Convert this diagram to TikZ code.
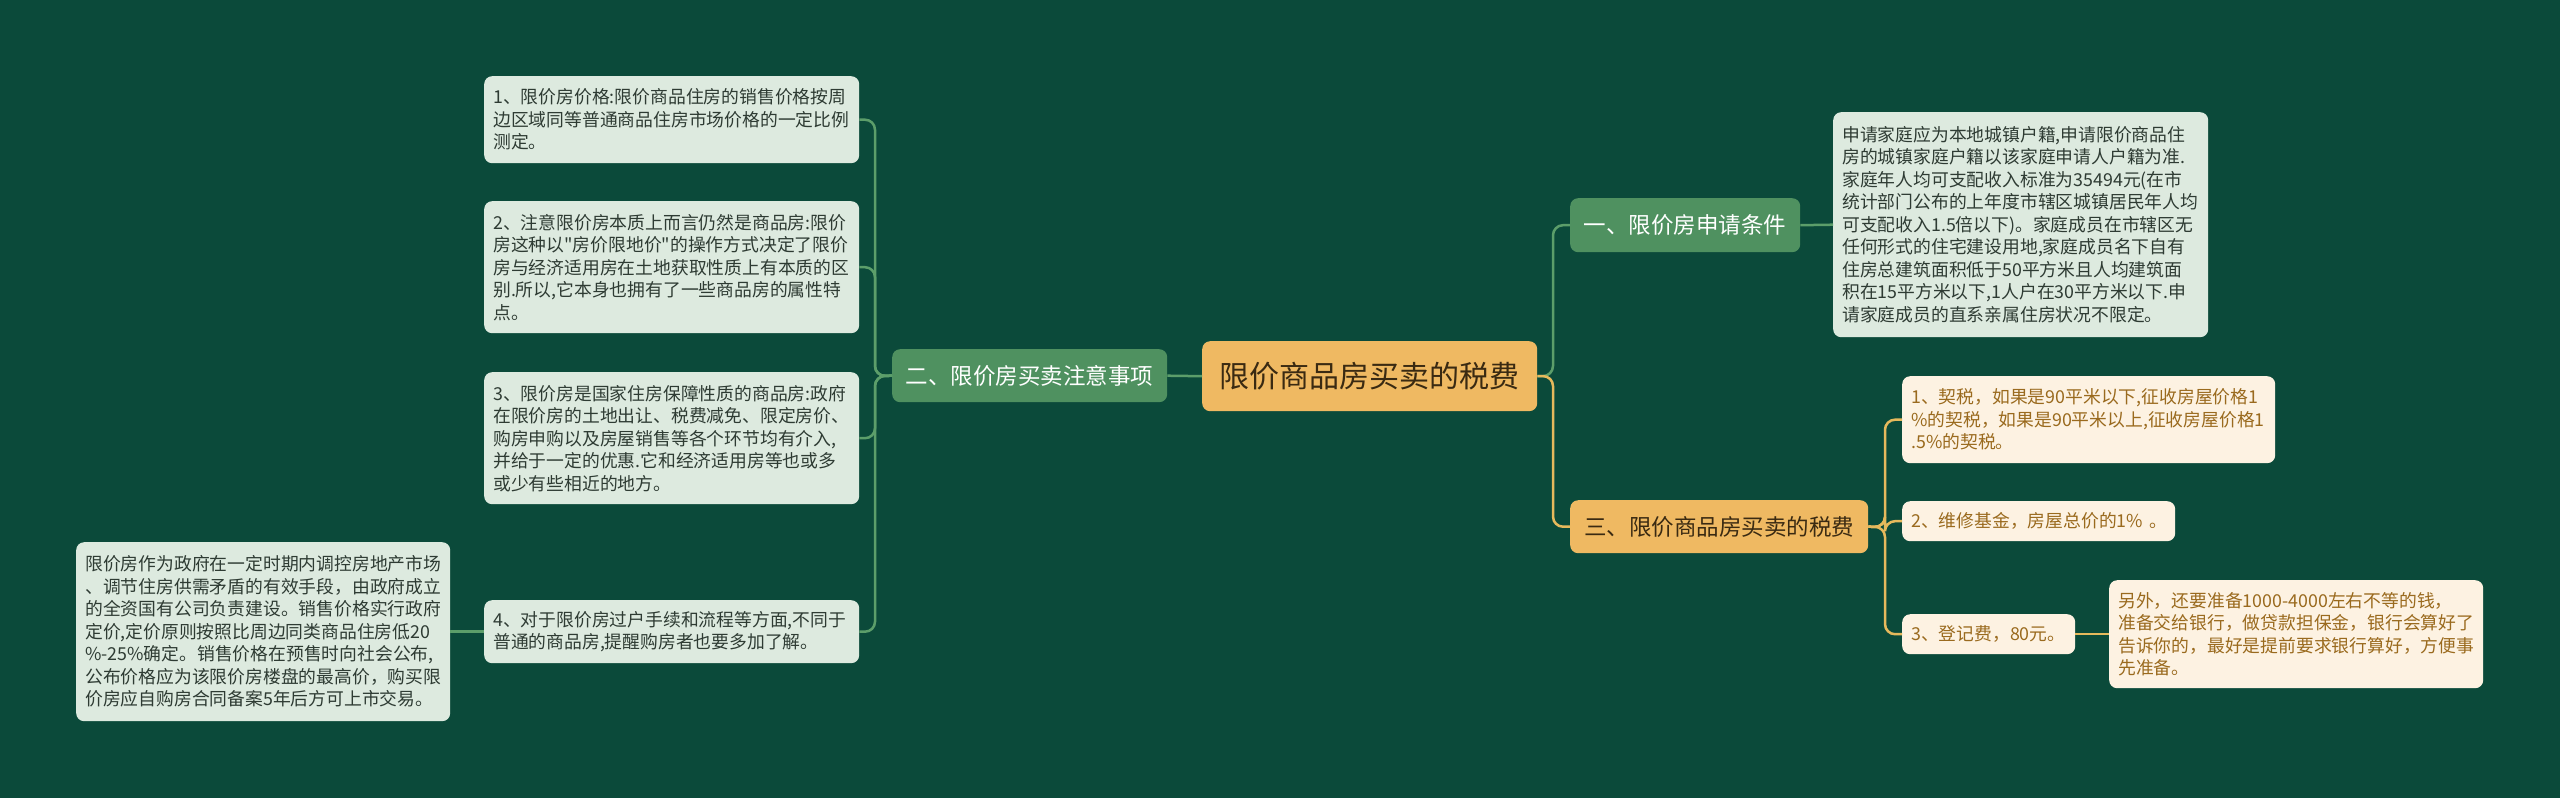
\documentclass[tikz,border=0pt]{standalone}
\usepackage{fontspec}
\setmainfont{Noto Sans CJK SC}[Ligatures=TeXOff]
\definecolor{bg}{HTML}{0B4A3A}
\definecolor{gbranch}{HTML}{4F9160}
\definecolor{gleaf}{HTML}{DDEADF}
\definecolor{gtext}{HTML}{2E3B33}
\definecolor{ybranch}{HTML}{EFB962}
\definecolor{yleaf}{HTML}{FDF2E2}
\definecolor{ytext}{HTML}{9A6A1E}
\definecolor{ctext}{HTML}{3A2A12}
\definecolor{gconn}{HTML}{5C9E6A}
\definecolor{yconn}{HTML}{E6B95C}
\tikzset{
  box/.style={anchor=north west, rounded corners=8pt, inner sep=0pt, align=left},
  central/.style={box, fill=ybranch, text=ctext, font=\fontsize{30}{36}\selectfont, align=center},
  gbr/.style={box, fill=gbranch, text=white, font=\fontsize{22.5}{27}\selectfont, align=center},
  ybr/.style={box, fill=ybranch, text=ctext, font=\fontsize{22.5}{27}\selectfont, align=center},
  gleafbox/.style={box, fill=gleaf, text=gtext, font=\fontsize{17.8}{22.5}\selectfont},
  yleafbox/.style={box, fill=yleaf, text=ytext, font=\fontsize{17.8}{22.5}\selectfont},
  gline/.style={draw=gconn, line width=2.5pt, rounded corners=10pt},
  yline/.style={draw=yconn, line width=2.5pt, rounded corners=10pt},
}
\begin{document}
\begin{tikzpicture}[x=1pt,y=-1pt]
\fill[bg] (0,0) rectangle (2560,798);
\useasboundingbox (0,0) rectangle (2560,798);

% central
\node[central, minimum width=335pt, minimum height=70pt, text width=335pt] (c) at (1202,341) {限价商品房买卖的税费};

% left branch
\node[gbr, minimum width=275pt, minimum height=53pt, text width=275pt] (b2) at (892,349) {二、限价房买卖注意事项};

\node[gleafbox, minimum width=375pt, minimum height=87pt, text width=357pt] (l1) at (484,76) {1、限价房价格:限价商品住房的销售价格按周\\边区域同等普通商品住房市场价格的一定比例\\测定。};
\node[gleafbox, minimum width=375pt, minimum height=132pt, text width=357pt] (l2) at (484,201) {2、注意限价房本质上而言仍然是商品房:限价\\房这种以"房价限地价"的操作方式决定了限价\\房与经济适用房在土地获取性质上有本质的区\\别.所以,它本身也拥有了一些商品房的属性特\\点。};
\node[gleafbox, minimum width=375pt, minimum height=132pt, text width=357pt] (l3) at (484,372) {3、限价房是国家住房保障性质的商品房:政府\\在限价房的土地出让、税费减免、限定房价、\\购房申购以及房屋销售等各个环节均有介入,\\并给于一定的优惠.它和经济适用房等也或多\\或少有些相近的地方。};
\node[gleafbox, minimum width=375pt, minimum height=63pt, text width=357pt] (l4) at (484,600) {4、对于限价房过户手续和流程等方面,不同于\\普通的商品房,提醒购房者也要多加了解。};
\node[gleafbox, minimum width=374pt, minimum height=179pt, text width=356pt] (fl) at (76,542) {限价房作为政府在一定时期内调控房地产市场\\、调节住房供需矛盾的有效手段，由政府成立\\的全资国有公司负责建设。销售价格实行政府\\定价,定价原则按照比周边同类商品住房低20\\\%-25\%确定。销售价格在预售时向社会公布,\\公布价格应为该限价房楼盘的最高价，购买限\\价房应自购房合同备案5年后方可上市交易。};

% right branches
\node[gbr, minimum width=230pt, minimum height=54pt, text width=230pt] (b1) at (1570,198) {一、限价房申请条件};
\node[gleafbox, minimum width=375pt, minimum height=225pt, text width=357pt] (d1) at (1833,112) {申请家庭应为本地城镇户籍,申请限价商品住\\房的城镇家庭户籍以该家庭申请人户籍为准.\\家庭年人均可支配收入标准为35494元(在市\\统计部门公布的上年度市辖区城镇居民年人均\\可支配收入1.5倍以下)。家庭成员在市辖区无\\任何形式的住宅建设用地,家庭成员名下自有\\住房总建筑面积低于50平方米且人均建筑面\\积在15平方米以下,1人户在30平方米以下.申\\请家庭成员的直系亲属住房状况不限定。};

\node[ybr, minimum width=298pt, minimum height=53pt, text width=298pt] (b3) at (1570,500) {三、限价商品房买卖的税费};
\node[yleafbox, minimum width=373pt, minimum height=87pt, text width=355pt] (y1) at (1902,376) {1、契税，如果是90平米以下,征收房屋价格1\\\%的契税，如果是90平米以上,征收房屋价格1\\.5\%的契税。};
\node[yleafbox, minimum width=273pt, minimum height=40pt, text width=255pt] (y2) at (1902,501) {2、维修基金，房屋总价的1\%~。};
\node[yleafbox, minimum width=173pt, minimum height=40pt, text width=155pt] (y3) at (1902,614) {3、登记费，80元。};
\node[yleafbox, minimum width=374pt, minimum height=108pt, text width=356pt] (y3d) at (2109,580) {另外，还要准备1000-4000左右不等的钱，\\准备交给银行，做贷款担保金，银行会算好了\\告诉你的，最好是提前要求银行算好，方便事\\先准备。};

% junction coordinates
\coordinate (lj) at (875,376);
\coordinate (rj) at (1553,376);
\coordinate (yj) at (1885,527);

% connectors left
\draw[gline] (c.west) -- (b2.east);
\draw[gline] (b2.west) -- (lj) |- (l1.east);
\draw[gline] (b2.west) -- (lj) |- (l2.east);
\draw[gline] (b2.west) -- (lj) |- (l3.east);
\draw[gline] (b2.west) -- (lj) |- (l4.east);
\draw[gline] (l4.west) -- (fl.east);

% connectors right
\draw[gline] (c.east) -- (rj) |- (b1.west);
\draw[yline] (c.east) -- (rj) |- (b3.west);
\draw[gline] (b1.east) -- (d1.west);
\draw[yline] (b3.east) -- (yj) |- (y1.west);
\draw[yline] (b3.east) -- (yj) |- (y2.west);
\draw[yline] (b3.east) -- (yj) |- (y3.west);
\draw[yline] (y3.east) -- (y3d.west);
\end{tikzpicture}
\end{document}
